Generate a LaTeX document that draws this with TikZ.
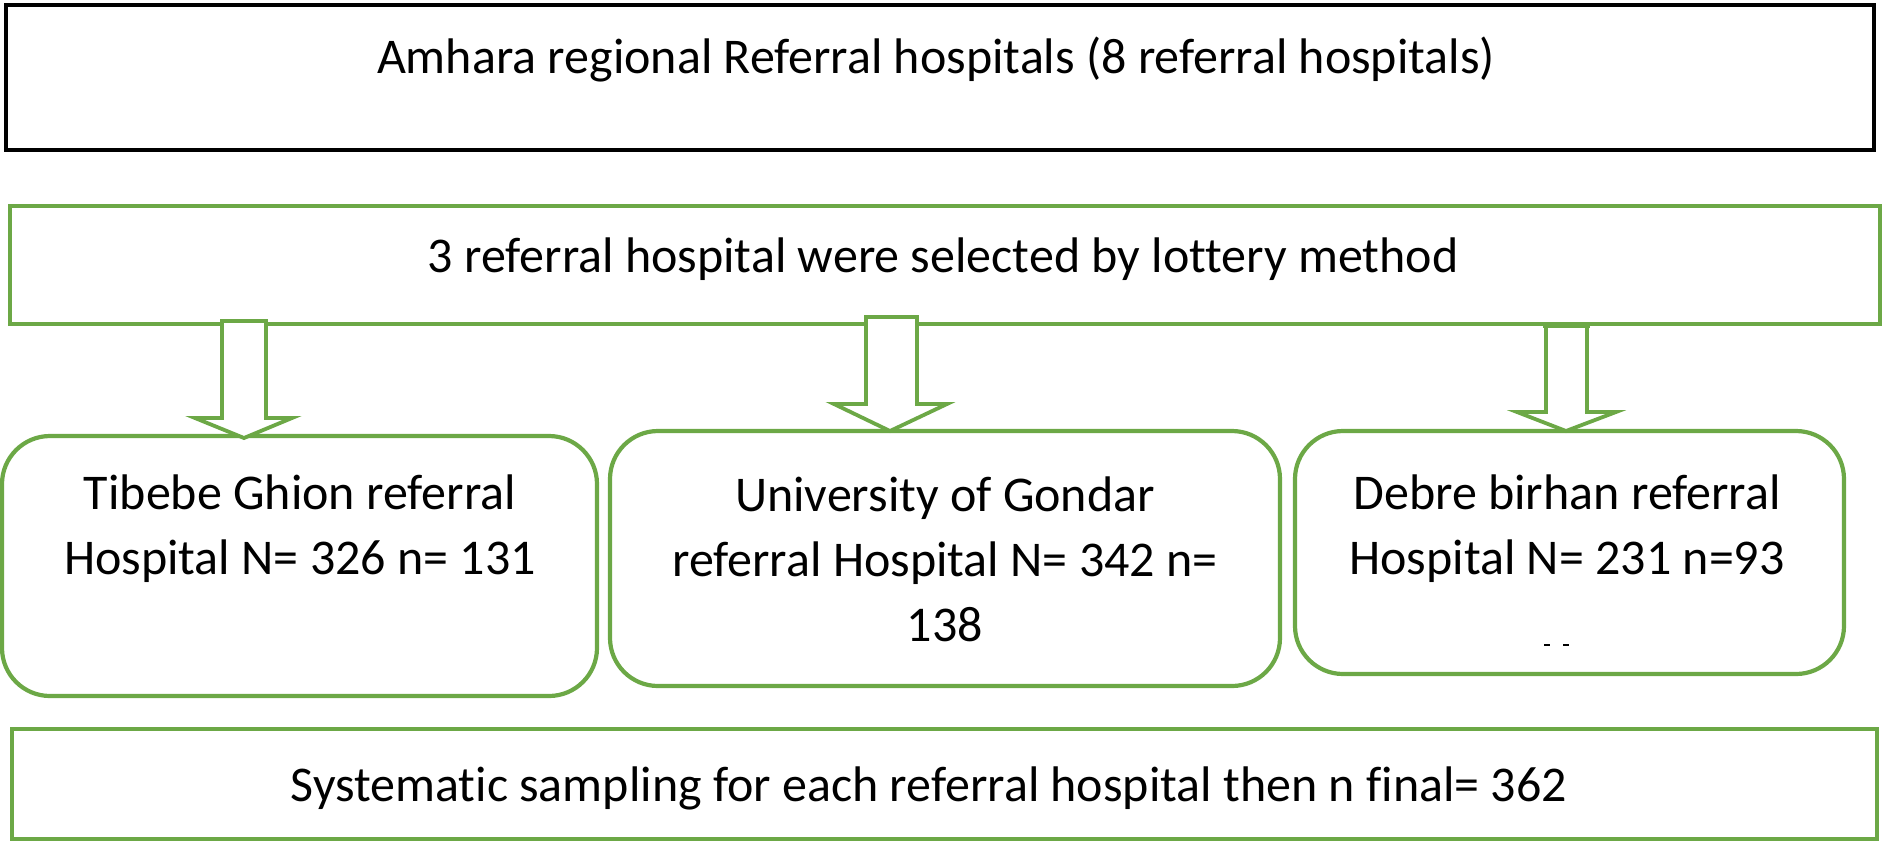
\documentclass[tikz,border=0pt]{standalone}
\usepackage{fontspec}
\setmainfont{Carlito}[Ligatures=NoCommon]
\definecolor{boxgreen}{RGB}{108,168,70}
\begin{document}
\begin{tikzpicture}[x=0.5pt,y=-0.5pt,
  blackbox/.style={draw=black,line width=2pt,fill=white},
  greenbox/.style={draw=boxgreen,line width=2.1pt,fill=white},
  roundbox/.style={draw=boxgreen,line width=2.1pt,fill=white,rounded corners=24pt},
  lbl/.style={font=\fontsize{25pt}{32.5pt}\selectfont,align=center,inner sep=0pt,text=black},
  blockarrow/.style={draw=boxgreen,line width=1.9pt,fill=white,line join=miter}]
\useasboundingbox (0,0) rectangle (1887,842);
% boxes
\draw[blackbox] (6,5) rectangle (1874,150);
\node[lbl] (top) at (936,60) {Amhara regional Referral hospitals (8 referral hospitals)};
\draw[greenbox] (10,206) rectangle (1880,324);
\node[lbl] (sel) at (943,259) {3 referral hospital were selected by lottery method};
\draw[roundbox] (2,436) rectangle (597,696);
\draw[roundbox] (610,431) rectangle (1280,686);
\draw[roundbox] (1295,431) rectangle (1844,674);
\node[lbl] (hA) at (300,529) {Tibebe Ghion referral\\Hospital N= 326 n= 131};
\node[lbl] (hB) at (945,559) {University of Gondar\\referral Hospital N= 342 n=\\138};
\node[lbl] (hC) at (1567,529) {Debre birhan referral\\Hospital N= 231 n=93};
\draw[black,line width=1pt] (1544,645) -- (1550,645) (1563,645) -- (1569,645);
\draw[greenbox] (12,729) rectangle (1877,839);
\node[lbl] (fin) at (929,788) {Systematic sampling for each referral hospital then n final= 362};
% block arrows
\draw[blockarrow] (222,321) -- (266,321) -- (266,418) -- (292,418) -- (244,438) -- (195,418) -- (222,418) -- cycle;
\draw[blockarrow] (866,317) -- (917,317) -- (917,404) -- (947,404) -- (890,431) -- (834,404) -- (866,404) -- cycle;
\draw[blockarrow] (1546,324) -- (1587,324) -- (1587,412) -- (1616,412) -- (1566,431) -- (1517,412) -- (1546,412) -- cycle;
\fill[boxgreen] (1543,322) rectangle (1590,328);
\end{tikzpicture}
\end{document}
